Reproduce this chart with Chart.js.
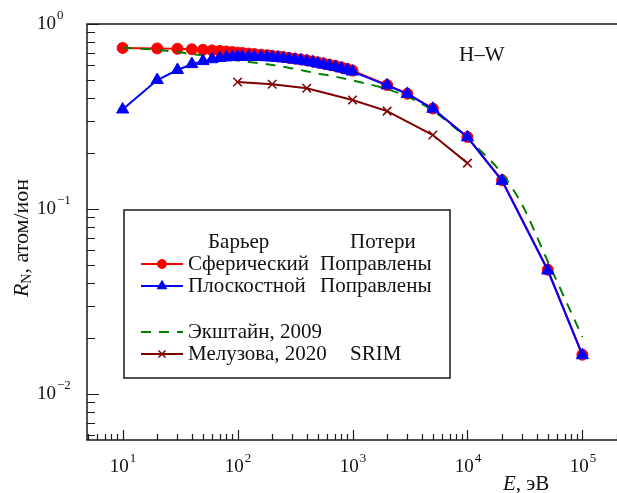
<!DOCTYPE html>
<html>
<head>
<meta charset="utf-8">
<script src="https://cdn.jsdelivr.net/npm/chart.js@4"></script>
<style>
  html, body { margin: 0; padding: 0; background: #fff; overflow: hidden; }
  #wrap { width: 617px; height: 493px; position: relative; }
  canvas { display: block; }
</style>
</head>
<body>
<div id="wrap"><canvas id="c"></canvas></div>
<script>
// energies, eV
const energySph = [10,20,30,40,50,60,70,80,90,100,110,125,140,160,180,200,225,250,280,315,355,400,450,500,560,630,710,800,900,1000,2000,3000,5000,10000,20000,50000,100000];
const yieldSph  = [0.742,0.738,0.735,0.73,0.725,0.72,0.715,0.71,0.705,0.70,0.697,0.692,0.688,0.683,0.678,0.673,0.668,0.662,0.656,0.65,0.643,0.636,0.628,0.62,0.612,0.603,0.594,0.583,0.572,0.56,0.468,0.42,0.349,0.245,0.143,0.047,0.0163];

const energyFlat = [10,20,30,40,50,60,70,80,90,100,110,125,140,160,180,200,225,250,280,315,355,400,450,500,560,630,710,800,900,1000,2000,3000,5000,10000,20000,50000,100000];
const yieldFlat  = [0.345,0.498,0.564,0.607,0.63,0.645,0.655,0.66,0.664,0.665,0.665,0.665,0.664,0.663,0.661,0.659,0.656,0.652,0.647,0.641,0.635,0.628,0.62,0.611,0.603,0.594,0.585,0.575,0.563,0.553,0.466,0.419,0.348,0.244,0.142,0.0465,0.0162];

const energyEck = [10,20,30,50,70,100,200,300,500,700,1000,2000,3000,5000,7000,10000,20000,30000,50000,70000,100000];
const yieldEck  = [0.745,0.725,0.705,0.675,0.655,0.635,0.60,0.575,0.54,0.52,0.495,0.445,0.405,0.34,0.29,0.24,0.155,0.105,0.052,0.033,0.0203];

const energySrim = [100,200,400,1000,2000,5000,10000];
const yieldSrim  = [0.486,0.472,0.449,0.388,0.338,0.251,0.177];

const xTickValues = [1e1,1e2,1e3,1e4,1e5];
const xTickExp = ['1','2','3','4','5'];
const yTickValues = [1,0.1,0.01];
const yTickExp = ['0','\u22121','\u22122'];

const legendHead = ['Барьер','Потери'];
const legendRows = [
  ['Сферический','Поправлены'],
  ['Плоскостной','Поправлены'],
  ['Экштайн, 2009',''],
  ['Мелузова, 2020','SRIM']
];
const legendRadius = [4.5, 5.5, 0, 5];

const SERIF = '"Liberation Serif", "DejaVu Serif", serif';

function pts(xs, ys) {
  return xs.map((x, i) => ({x: x, y: ys[i]}));
}

function drawPow(ctx, base, exp, x, y, align) {
  ctx.font = '19px ' + SERIF;
  const wb = ctx.measureText(base).width;
  ctx.font = '13px ' + SERIF;
  const we = ctx.measureText(exp).width;
  let left = x;
  if (align === 'center') left = x - (wb + we) / 2;
  ctx.textBaseline = 'middle';
  ctx.textAlign = 'left';
  ctx.font = '19px ' + SERIF;
  ctx.fillText(base, left, y);
  ctx.font = '13px ' + SERIF;
  ctx.fillText(exp, left + wb + 1, y - 8);
}

const axesPlugin = {
  id: 'axesPlugin',
  beforeDatasetsDraw(chart) {
    const ctx = chart.ctx;
    const a = chart.chartArea;
    const xs = chart.scales.x, ys = chart.scales.y;
    ctx.save();
    ctx.strokeStyle = '#1a1a1a';
    ctx.lineWidth = 1.5;
    ctx.beginPath();
    ctx.moveTo(a.right, a.top); ctx.lineTo(a.left, a.top);
    ctx.lineTo(a.left, a.bottom); ctx.lineTo(a.right, a.bottom);
    ctx.stroke();

    ctx.lineWidth = 1.2;
    ctx.beginPath();
    // x ticks, inward
    for (let d = 0; d <= 5; d++) {
      for (let m = 1; m <= 9; m++) {
        const v = m * Math.pow(10, d);
        if (v < xs.min || v > xs.max) continue;
        const px = Math.round(xs.getPixelForValue(v)) + 0.5;
        const len = m === 1 ? 10 : 6;
        ctx.moveTo(px, a.bottom); ctx.lineTo(px, a.bottom - len);
      }
    }
    // y ticks, inward
    for (let d = -3; d <= 0; d++) {
      for (let m = 1; m <= 9; m++) {
        const v = m * Math.pow(10, d);
        if (v < ys.min || v > ys.max * 1.0001) continue;
        const py = Math.round(ys.getPixelForValue(v)) + 0.5;
        const len = m === 1 ? 12 : 8;
        ctx.moveTo(a.left, py); ctx.lineTo(a.left + len, py);
      }
    }
    ctx.stroke();

    ctx.fillStyle = '#111';
    xTickValues.forEach((v, i) => {
      drawPow(ctx, '10', xTickExp[i], xs.getPixelForValue(v), 467, 'center');
    });
    yTickValues.forEach((v, i) => {
      drawPow(ctx, '10', yTickExp[i], 37, ys.getPixelForValue(v), 'left');
    });

    // y title
    ctx.save();
    ctx.translate(22, 238);
    ctx.rotate(-Math.PI / 2);
    ctx.font = 'italic 22px ' + SERIF;
    const wR = ctx.measureText('R').width;
    ctx.font = '14px ' + SERIF;
    const wN = ctx.measureText('N').width;
    ctx.font = '22px ' + SERIF;
    const rest = ', атом/ион';
    const wRest = ctx.measureText(rest).width;
    const left = -(wR + wN + wRest) / 2;
    ctx.textBaseline = 'middle';
    ctx.font = 'italic 22px ' + SERIF;
    ctx.fillText('R', left, 0);
    ctx.font = '14px ' + SERIF;
    ctx.fillText('N', left + wR, 5);
    ctx.font = '22px ' + SERIF;
    ctx.fillText(rest, left + wR + wN, 0);
    ctx.restore();

    // x title
    ctx.textBaseline = 'middle';
    ctx.textAlign = 'left';
    ctx.font = 'italic 21px ' + SERIF;
    ctx.fillText('E', 503, 484);
    const wE = ctx.measureText('E').width;
    ctx.font = '21px ' + SERIF;
    ctx.fillText(', эВ', 503 + wE, 484);

    ctx.fillText('H\u2013W', 459, 55);
    ctx.restore();
  },
  afterDraw(chart) {
    const ctx = chart.ctx;
    const ds = chart.data.datasets;
    ctx.save();
    ctx.fillStyle = '#fff';
    ctx.fillRect(124, 210, 326, 168);
    ctx.strokeStyle = '#1a1a1a';
    ctx.lineWidth = 1.5;
    ctx.strokeRect(124, 210, 326, 168);

    ctx.fillStyle = '#111';
    ctx.textBaseline = 'middle';
    ctx.textAlign = 'left';
    ctx.font = '21px ' + SERIF;
    ctx.fillText(legendHead[0], 208, 242);
    ctx.fillText(legendHead[1], 350, 242);

    const rowY = [264, 286, 332, 354];
    const col2X = [320, 320, 320, 350];
    legendRows.forEach((row, i) => {
      const d = ds[i];
      const y = rowY[i];
      ctx.strokeStyle = d.borderColor;
      ctx.lineWidth = 2;
      ctx.setLineDash(d.borderDash || []);
      ctx.beginPath();
      ctx.moveTo(141, y); ctx.lineTo(183, y);
      ctx.stroke();
      ctx.setLineDash([]);
      if (legendRadius[i] > 0) {
        ctx.fillStyle = d.pointBackgroundColor;
        ctx.strokeStyle = d.pointBorderColor;
        ctx.lineWidth = d.pointBorderWidth;
        Chart.helpers.drawPoint(ctx, {pointStyle: d.pointStyle, rotation: 0, radius: legendRadius[i], borderWidth: d.pointBorderWidth}, 162, y);
      }
      ctx.fillStyle = '#111';
      ctx.font = '21px ' + SERIF;
      ctx.fillText(row[0], 188, y);
      if (row[1]) ctx.fillText(row[1], col2X[i], y);
    });
    ctx.restore();
  }
};

new Chart(document.getElementById('c'), {
  type: 'line',
  data: {
    datasets: [
      {
        label: 'Сферический',
        data: pts(energySph, yieldSph),
        borderColor: '#ff0000', backgroundColor: '#ff0000',
        pointBackgroundColor: '#ff0000', pointBorderColor: '#ff0000',
        pointStyle: 'circle', pointRadius: 5.5, pointBorderWidth: 1,
        borderWidth: 2, order: 3
      },
      {
        label: 'Плоскостной',
        data: pts(energyFlat, yieldFlat),
        borderColor: '#0000ff', backgroundColor: '#0000ff',
        pointBackgroundColor: '#0000ff', pointBorderColor: '#0000ff',
        pointStyle: 'triangle', pointRadius: 7, pointBorderWidth: 1,
        borderWidth: 2, order: 0
      },
      {
        label: 'Экштайн, 2009',
        data: pts(energyEck, yieldEck),
        borderColor: '#008000', backgroundColor: '#008000',
        pointBackgroundColor: '#008000', pointBorderColor: '#008000',
        borderDash: [10, 8], pointRadius: 0, pointBorderWidth: 1,
        borderWidth: 2, cubicInterpolationMode: 'monotone', order: 2
      },
      {
        label: 'Мелузова, 2020',
        data: pts(energySrim, yieldSrim),
        borderColor: '#800000', backgroundColor: '#800000',
        pointBackgroundColor: '#800000', pointBorderColor: '#800000',
        pointStyle: 'crossRot', pointRadius: 6, pointBorderWidth: 1.5,
        borderWidth: 2, order: 1
      }
    ]
  },
  options: {
    responsive: true,
    maintainAspectRatio: false,
    animation: false,
    layout: { autoPadding: false, padding: { top: 24, left: 0, right: 0, bottom: 0 } },
    plugins: { legend: { display: false }, tooltip: { enabled: false } },
    scales: {
      x: {
        type: 'logarithmic', min: 4.9, max: 2e5,
        ticks: { display: false }, grid: { display: false }, border: { display: false },
        afterFit(s) { s.height = 53; s.paddingLeft = 0; s.paddingRight = 0; }
      },
      y: {
        type: 'logarithmic', min: 0.00564, max: 1,
        ticks: { display: false }, grid: { display: false }, border: { display: false },
        afterFit(s) { s.width = 87; s.paddingTop = 0; s.paddingBottom = 0; }
      }
    }
  },
  plugins: [axesPlugin]
});
</script>
</body>
</html>
